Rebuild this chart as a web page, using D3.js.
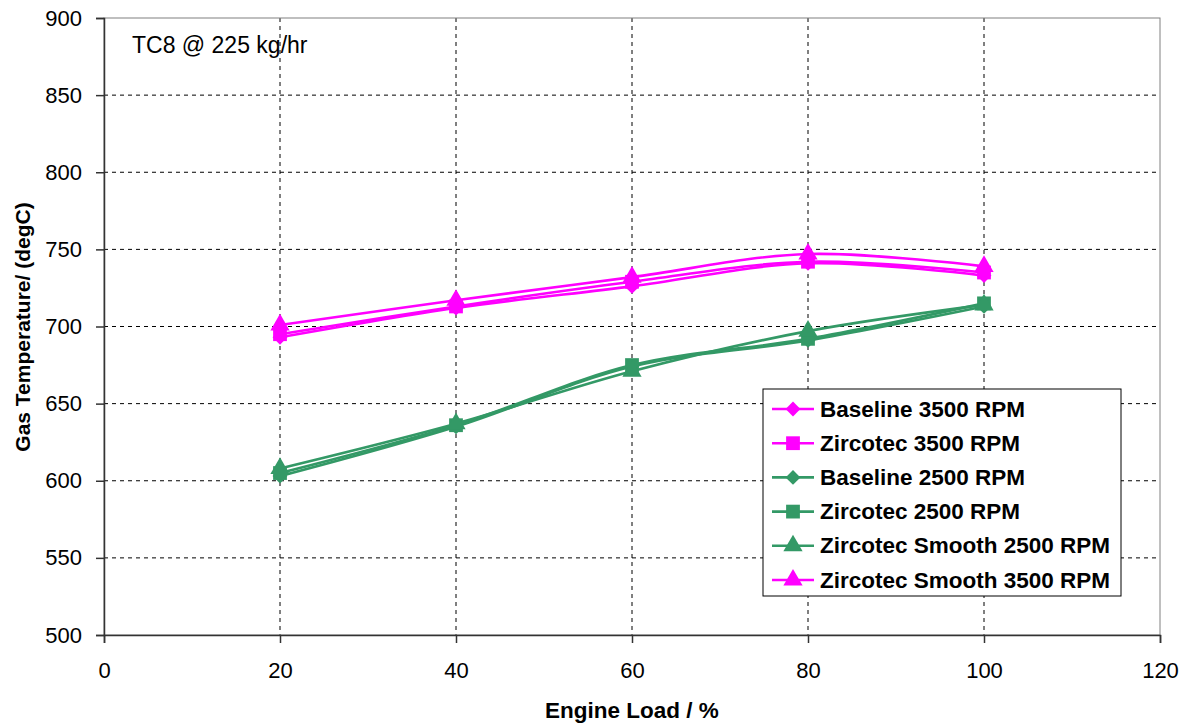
<!DOCTYPE html>
<html>
<head>
<meta charset="utf-8">
<script src="https://cdn.jsdelivr.net/npm/d3@7"></script>
<style>
  body { margin: 0; background: #fff; }
  svg { font-family: "Liberation Sans", Arial, sans-serif; }
</style>
</head>
<body>
<svg id="chart" width="1184" height="725"></svg>
<script>
// Engine load steps (x) and gas temperatures
const loads = [20, 40, 60, 80, 100]
const baseline3500 = [693, 712, 726, 741, 733]
const zircotec3500 = [695, 713, 729, 742, 735]
const baseline2500 = [603, 635, 674, 691, 713]
const zircotec2500 = [605, 636, 675, 692, 715]
const smooth2500 = [608, 637, 671, 697, 714]
const smooth3500 = [701, 717, 732, 747, 739]

const xTicks = [0, 20, 40, 60, 80, 100, 120]
const yTicks = [500, 550, 600, 650, 700, 750, 800, 850, 900]

const pink = "#ff00ff"
const green = "#339966"

const series = [
  {name: "Baseline 3500 RPM", values: baseline3500, color: pink, marker: "diamond"},
  {name: "Zircotec 3500 RPM", values: zircotec3500, color: pink, marker: "square"},
  {name: "Baseline 2500 RPM", values: baseline2500, color: green, marker: "diamond"},
  {name: "Zircotec 2500 RPM", values: zircotec2500, color: green, marker: "square"},
  {name: "Zircotec Smooth 2500 RPM", values: smooth2500, color: green, marker: "triangle"},
  {name: "Zircotec Smooth 3500 RPM", values: smooth3500, color: pink, marker: "triangle"}
]

const svg = d3.select("#chart")
const plotLeft = 104, plotRight = 1160, plotTop = 18, plotBottom = 635

const x = d3.scaleLinear().domain([0, 120]).range([plotLeft, plotRight])
const y = d3.scaleLinear().domain([500, 900]).range([plotBottom, plotTop])

// gridlines
svg.append("g").selectAll("line")
  .data(xTicks.slice(1, -1)).enter().append("line")
  .attr("x1", d => x(d)).attr("x2", d => x(d))
  .attr("y1", plotTop).attr("y2", plotBottom)
  .attr("stroke", "#000").attr("stroke-dasharray", "4,4").attr("stroke-width", 1)
svg.append("g").selectAll("line")
  .data(yTicks.slice(1, -1)).enter().append("line")
  .attr("x1", plotLeft).attr("x2", plotRight)
  .attr("y1", d => y(d)).attr("y2", d => y(d))
  .attr("stroke", "#000").attr("stroke-dasharray", "4,4").attr("stroke-width", 1)

// plot border
svg.append("rect")
  .attr("x", plotLeft).attr("y", plotTop)
  .attr("width", plotRight - plotLeft).attr("height", plotBottom - plotTop)
  .attr("fill", "none").attr("stroke", "#808080").attr("stroke-width", 1)

// axes
const xAxis = svg.append("g")
  .attr("transform", "translate(0," + plotBottom + ")")
  .call(d3.axisBottom(x).tickValues(xTicks).tickSize(8).tickPadding(19))
const yAxis = svg.append("g")
  .attr("transform", "translate(" + plotLeft + ",0)")
  .call(d3.axisLeft(y).tickValues(yTicks).tickSize(8).tickPadding(14))
;[xAxis, yAxis].forEach(function(a) {
  a.select(".domain").attr("stroke", "#333").attr("stroke-width", 1.5)
  a.selectAll(".tick line").attr("stroke", "#333").attr("stroke-width", 1.5)
  a.selectAll("text").attr("font-size", 22).attr("fill", "#000")
    .attr("font-family", "Liberation Sans, Arial, sans-serif")
})

function markerPath(type, size) {
  if (type === "diamond") return d3.symbol().type(d3.symbolDiamond2).size(size)()
  if (type === "square") return d3.symbol().type(d3.symbolSquare).size(size)()
  return d3.symbol().type(d3.symbolTriangle).size(size)()
}
const markerSize = {diamond: 140, square: 190, triangle: 160}

// Excel-style smoothed line
const line = d3.line()
  .x(d => x(d[0]))
  .y(d => y(d[1]))
  .curve(d3.curveCatmullRom.alpha(0.5))

series.forEach(function(s) {
  const pts = loads.map((l, i) => [l, s.values[i]])
  svg.append("path")
    .datum(pts)
    .attr("d", line)
    .attr("fill", "none")
    .attr("stroke", s.color)
    .attr("stroke-width", 2.6)
  svg.append("g").selectAll("path")
    .data(pts).enter().append("path")
    .attr("transform", d => "translate(" + x(d[0]) + "," + y(d[1]) + ")")
    .attr("d", markerPath(s.marker, markerSize[s.marker]))
    .attr("fill", s.color)
})

// annotation
svg.append("text")
  .attr("x", 132).attr("y", 53)
  .attr("font-size", 23)
  .text("TC8 @ 225 kg/hr")

// axis titles
svg.append("text")
  .attr("x", x(60)).attr("y", 718)
  .attr("text-anchor", "middle")
  .attr("font-size", 22.5).attr("font-weight", "bold")
  .text("Engine Load / %")
svg.append("text")
  .attr("transform", "translate(30,327) rotate(-90)")
  .attr("text-anchor", "middle")
  .attr("font-size", 21).attr("font-weight", "bold")
  .text("Gas Temperature/ (degC)")

// legend
const legend = svg.append("g").attr("transform", "translate(763,389)")
legend.append("rect")
  .attr("width", 358).attr("height", 207)
  .attr("fill", "#fff").attr("stroke", "#000").attr("stroke-width", 1)
series.forEach(function(s, i) {
  const ly = 20 + i * 34.2
  legend.append("line")
    .attr("x1", 9).attr("x2", 51).attr("y1", ly).attr("y2", ly)
    .attr("stroke", s.color).attr("stroke-width", 2.6)
  legend.append("path")
    .attr("transform", "translate(30," + ly + ")")
    .attr("d", markerPath(s.marker, markerSize[s.marker]))
    .attr("fill", s.color)
  legend.append("text")
    .attr("x", 57).attr("y", ly + 7.5)
    .attr("font-size", 22.5).attr("font-weight", "bold")
    .text(s.name)
})
</script>
</body>
</html>
